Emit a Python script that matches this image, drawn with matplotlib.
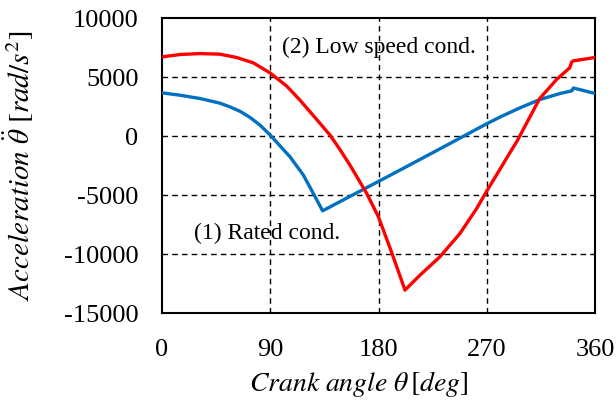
import numpy as np
import matplotlib
matplotlib.use("Agg")
import matplotlib.pyplot as plt

plt.rcParams['font.family'] = ['Liberation Serif', 'DejaVu Serif']
plt.rcParams['mathtext.fontset'] = 'stix'
plt.rcParams['axes.unicode_minus'] = False

# (2) low speed condition - red
low_deg = [0, 15, 31.6, 48, 62, 76, 90, 103.6, 114.7, 127, 139.7, 148, 156.3, 170.2,
           179.9, 190, 202, 214.5, 231, 247.7, 261.6, 270, 281, 290.7, 295, 314, 328,
           339, 340.6, 342, 360]
low_acc = [6720, 6920, 7000, 6950, 6670, 6210, 5350, 4250, 3050, 1600, 85, -1150, -2460,
           -4860, -6840, -9600, -13050, -11780, -10230, -8250, -6130, -4650, -2800,
           -1150, -450, 3190, 4800, 5800, 6300, 6380, 6670]

# (1) rated condition - blue
rated_deg = [0, 15, 31.6, 48, 56.5, 65, 73, 81.5, 90, 101, 106.4, 117.5, 125.8, 133.5,
             198, 239.4, 269, 281, 297.6, 314, 331, 340.6, 342, 360]
rated_acc = [3670, 3470, 3190, 2800, 2480, 2100, 1600, 930, 85, -1150, -1750, -3300,
             -4860, -6330, -2870, -620, 1000, 1620, 2400, 3100, 3620, 3840, 4080, 3620]

xticks = [0, 90, 180, 270, 360]
yticks = [-15000, -10000, -5000, 0, 5000, 10000]

fig = plt.figure(figsize=(6.16, 4.04), dpi=100)
ax = fig.add_axes([0.263, 0.225, 0.703, 0.730])

ax.plot(rated_deg, rated_acc, color='#0070C0', lw=2.4, zorder=3)
ax.plot(low_deg, low_acc, color='#FF0000', lw=2.4, zorder=3)

ax.set_xlim(0, 360)
ax.set_ylim(-15000, 10000)
ax.set_xticks(xticks)
ax.set_yticks(yticks)
ax.tick_params(length=0, labelsize=19)
ax.tick_params(axis='x', pad=19)
ax.tick_params(axis='y', pad=17)

for v in [90, 180, 270]:
    ax.axvline(v, color='black', lw=1, ls=(0, (4, 3)), zorder=1)
for v in [-10000, -5000, 0, 5000]:
    ax.axhline(v, color='black', lw=1, ls=(0, (4, 3)), zorder=1)

for s in ax.spines.values():
    s.set_linewidth(1.5)

ax.text(180, 7540, "(2) Low speed cond.", ha='center', va='center', fontsize=17)
ax.text(87, -8220, "(1) Rated cond.", ha='center', va='center', fontsize=17)

ax.set_xlabel(r"$Crank\ angle\ \theta\,[deg]$", fontsize=20)
ax.set_ylabel(r"$Acceleration\ \ddot{\theta}\ [rad/s^2]$", fontsize=21)
ax.xaxis.set_label_coords(0.455, -0.19)
ax.yaxis.set_label_coords(-0.29, 0.5)

fig.savefig("out.png", dpi=100)
